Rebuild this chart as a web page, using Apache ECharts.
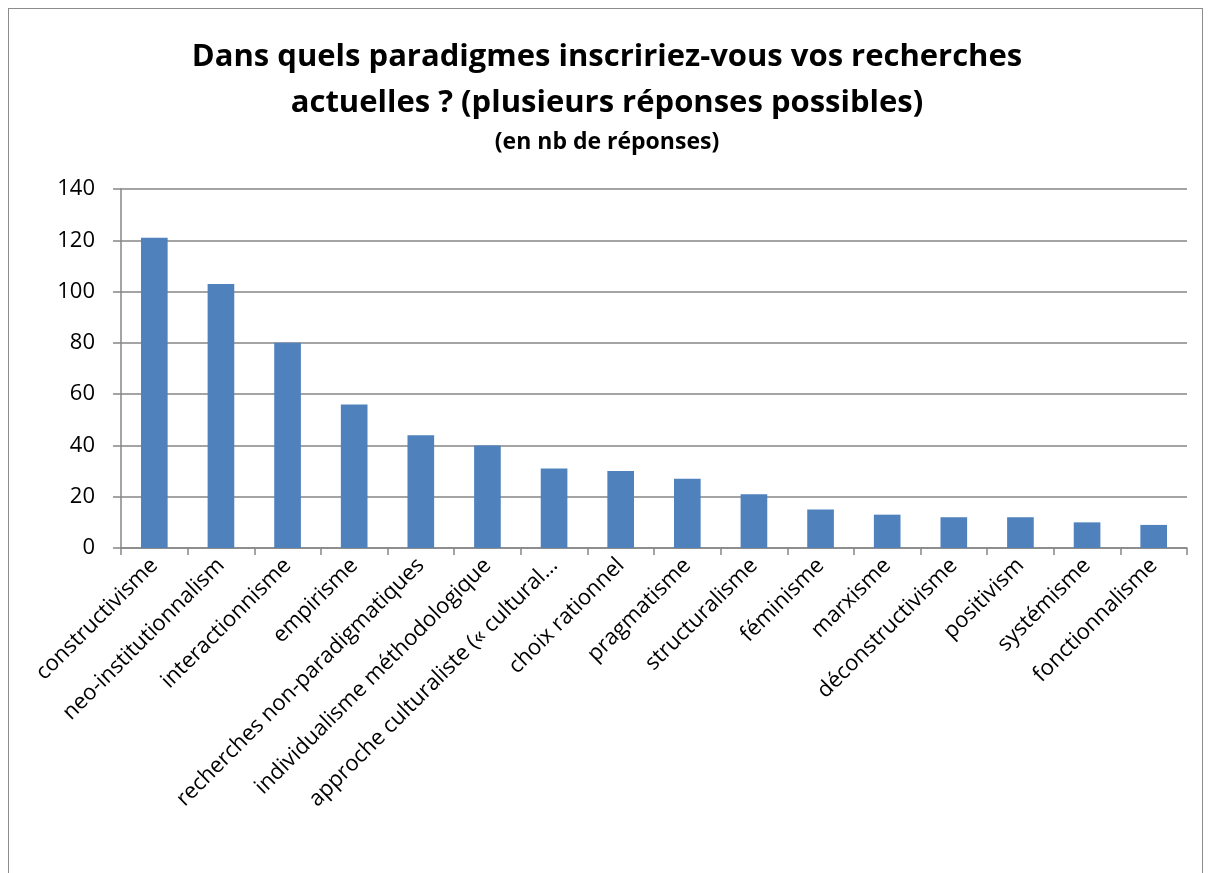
<!DOCTYPE html>
<html>
<head>
<meta charset="utf-8">
<script src="https://cdn.jsdelivr.net/npm/echarts@6/dist/echarts.min.js"></script>
<style>
    html, body { margin: 0; padding: 0; background: #fff; }
    #frame { position: absolute; left: 8px; top: 8px; width: 1195px; height: 900px; border: 1px solid #8c8c8c; box-sizing: border-box; }
    #chart { position: absolute; left: 0; top: 0; width: 1214px; height: 873px; }
</style>
</head>
<body>
<div id="frame"></div>
<div id="chart"></div>
<script>
// données (nb de réponses)
var categories = [
    'constructivisme', 'neo-institutionnalism', 'interactionnisme', 'empirisme',
    'recherches non-paradigmatiques', 'individualisme méthodologique',
    'approche culturaliste (« cultural…', 'choix rationnel', 'pragmatisme',
    'structuralisme', 'féminisme', 'marxisme', 'déconstructivisme',
    'positivism', 'systémisme', 'fonctionnalisme'
];
var reponses = [121, 103, 80, 56, 44, 40, 31, 30, 27, 21, 15, 13, 12, 12, 10, 9];
var yTicks = [0, 20, 40, 60, 80, 100, 120, 140];

var font = '"Open Sans", "Noto Sans", sans-serif';
var chart = echarts.init(document.getElementById('chart'));

chart.setOption({
    animation: false,
    title: [
        {
            text: 'Dans quels paradigmes inscririez-vous vos recherches\nactuelles ? (plusieurs réponses possibles)',
            left: 'center',
            top: 29,
            textStyle: { fontFamily: font, fontSize: 31, fontWeight: 'bold', color: '#000', lineHeight: 46 }
        },
        {
            text: '(en nb de réponses)',
            left: 'center',
            top: 126,
            textStyle: { fontFamily: font, fontSize: 23, fontWeight: 'bold', color: '#000' }
        }
    ],
    grid: { left: 121, right: 27, top: 189, bottom: 325 },
    xAxis: {
        type: 'category',
        data: categories,
        axisLine: { lineStyle: { color: '#868686', width: 1.5 } },
        axisTick: { show: true, length: 7, lineStyle: { color: '#868686', width: 1.5 } },
        axisLabel: {
            interval: 0,
            rotate: 45,
            margin: 14,
            fontFamily: font,
            fontSize: 22,
            color: '#000'
        }
    },
    yAxis: {
        type: 'value',
        min: yTicks[0],
        max: yTicks[yTicks.length - 1],
        interval: 20,
        axisLine: { show: true, lineStyle: { color: '#868686', width: 1.5 } },
        axisTick: { show: true, inside: false, length: 8, lineStyle: { color: '#868686', width: 1.5 } },
        splitLine: { lineStyle: { color: '#868686', width: 1.5 } },
        axisLabel: { fontFamily: font, fontSize: 22, color: '#000', margin: 26 }
    },
    series: [{
        type: 'bar',
        data: reponses,
        barWidth: '40%',
        itemStyle: { color: '#4F81BD' }
    }]
});
</script>
</body>
</html>
